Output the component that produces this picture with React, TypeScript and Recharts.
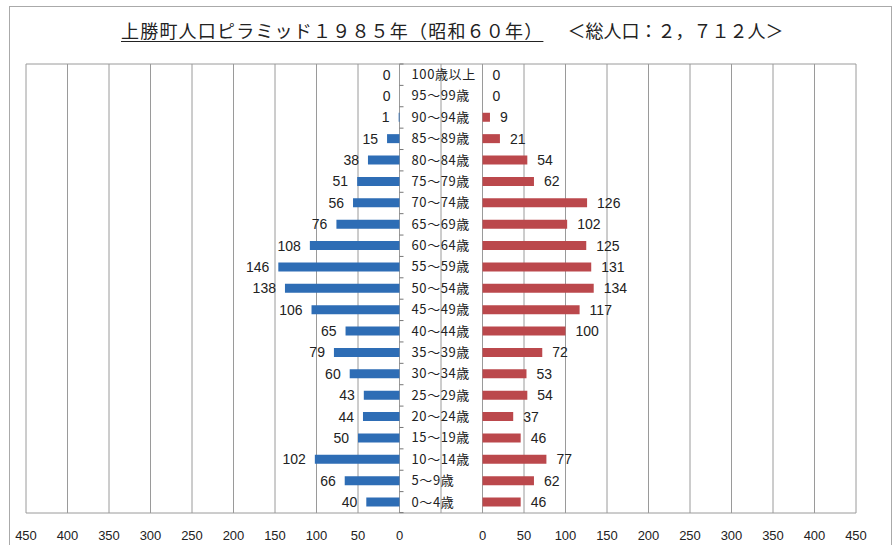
import React from 'react';
import { BarChart, Bar, XAxis, YAxis, CartesianGrid, LabelList } from 'recharts';

// 年齢階級（上から順）
const AGES = [
  '100歳以上', '95～99歳', '90～94歳', '85～89歳', '80～84歳', '75～79歳', '70～74歳',
  '65～69歳', '60～64歳', '55～59歳', '50～54歳', '45～49歳', '40～44歳', '35～39歳',
  '30～34歳', '25～29歳', '20～24歳', '15～19歳', '10～14歳', '5～9歳', '0～4歳',
];
const MALE = [0, 0, 1, 15, 38, 51, 56, 76, 108, 146, 138, 106, 65, 79, 60, 43, 44, 50, 102, 66, 40];
const FEMALE = [0, 0, 9, 21, 54, 62, 126, 102, 125, 131, 134, 117, 100, 72, 53, 54, 37, 46, 77, 62, 46];

// 中央の年齢欄の半幅（人数軸と同じ単位）
const GAP = 50;
const AXIS_TICKS = [-500, -450, -400, -350, -300, -250, -200, -150, -100, -50, 0, 50, 100, 150, 200, 250, 300, 350, 400, 450, 500];

const data = AGES.map((age, i) => ({ age, male: MALE[i], female: FEMALE[i] }));

const BLUE = '#2e6db5';
const RED = '#bb484c';
const GRID = '#9a9a9a';
const TEXT = '#222';
const NUM_FONT = '"Liberation Sans", Arial, sans-serif';
const JP_FONT = '"Noto Sans CJK JP", sans-serif';

const tickText = (v: number) => (v === 0 ? '' : String(Math.abs(v) - GAP));

// 中央の帯（-GAP〜+GAP）から年齢名・人数ラベルを描く
const RowLabels = (p: any) => {
  const left = Math.min(p.x, p.x + p.width);
  const right = Math.max(p.x, p.x + p.width);
  const perUnit = (right - left) / (2 * GAP);
  const cy = p.y + p.height / 2;
  const m = MALE[p.index];
  const f = FEMALE[p.index];
  return (
    <g>
      <text x={left + 12} y={cy} dy={4.5} fontSize={13} letterSpacing={0.6} fontFamily={JP_FONT} fill={TEXT}>
        {AGES[p.index]}
      </text>
      <text x={left - m * perUnit - 9} y={cy} dy={5} textAnchor="end" fontSize={14} fontFamily={NUM_FONT} fill={TEXT}>
        {m}
      </text>
      <text x={right + f * perUnit + 10} y={cy} dy={5} textAnchor="start" fontSize={14} fontFamily={NUM_FONT} fill={TEXT}>
        {f}
      </text>
    </g>
  );
};

// 年齢軸の目盛り（区間の境目）
const AgeTicks = (p: any) => {
  const left = Math.min(p.x, p.x + p.width);
  const last = p.index === AGES.length - 1;
  return (
    <g>
      <line x1={left} x2={left + 4} y1={p.y} y2={p.y} stroke="#777" />
      {last && <line x1={left} x2={left + 4} y1={p.y + p.height} y2={p.y + p.height} stroke="#777" />}
    </g>
  );
};

export default function App() {
  return (
    <div style={{ position: 'absolute', left: 0, top: 0, width: 894, height: 545, background: '#fff', overflow: 'hidden' }}>
      <div style={{ position: 'absolute', left: 9, top: 6, width: 881, height: 560, border: '1px solid #aaa' }} />
      <div style={{ position: 'absolute', left: 121, top: 18, fontFamily: JP_FONT, fontSize: 18, color: TEXT, whiteSpace: 'nowrap', lineHeight: '24px' }}>
        <span style={{ letterSpacing: 1.2, textDecoration: 'underline', textUnderlineOffset: 3 }}>上勝町人口ピラミッド１９８５年（昭和６０年）</span>
        <span style={{ marginLeft: 24, letterSpacing: 0 }}>＜総人口：２，７１２人＞</span>
      </div>
      <BarChart
        width={894}
        height={545}
        data={data}
        layout="vertical"
        barCategoryGap={0}
        margin={{ top: 64, right: 38, bottom: 2, left: 26 }}
        style={{ position: 'absolute', left: 0, top: 0 }}
      >
        <CartesianGrid
          stroke={GRID}
          horizontalCoordinatesGenerator={({ offset }: any) => [offset.top, offset.top + offset.height]}
        />
        <XAxis
          type="number"
          domain={[-500, 500]}
          ticks={AXIS_TICKS}
          tickFormatter={tickText}
          axisLine={false}
          tickLine={false}
          height={30}
          tickMargin={12}
          tick={{ fontSize: 13, fontFamily: NUM_FONT, fill: TEXT }}
          interval={0}
        />
        <YAxis yAxisId="c" type="category" dataKey="age" hide />
        <YAxis yAxisId="m" type="category" dataKey="age" hide />
        <YAxis yAxisId="f" type="category" dataKey="age" hide />
        <Bar yAxisId="m" dataKey={(d: any) => [-GAP - d.male, -GAP]} fill={BLUE} barSize={9} isAnimationActive={false} />
        <Bar yAxisId="f" dataKey={(d: any) => [GAP, GAP + d.female]} fill={RED} barSize={9} isAnimationActive={false} />
        <Bar yAxisId="c" dataKey={() => [-GAP, GAP]} fill="none" shape={AgeTicks} isAnimationActive={false}>
          <LabelList content={RowLabels} />
        </Bar>
      </BarChart>
    </div>
  );
}
